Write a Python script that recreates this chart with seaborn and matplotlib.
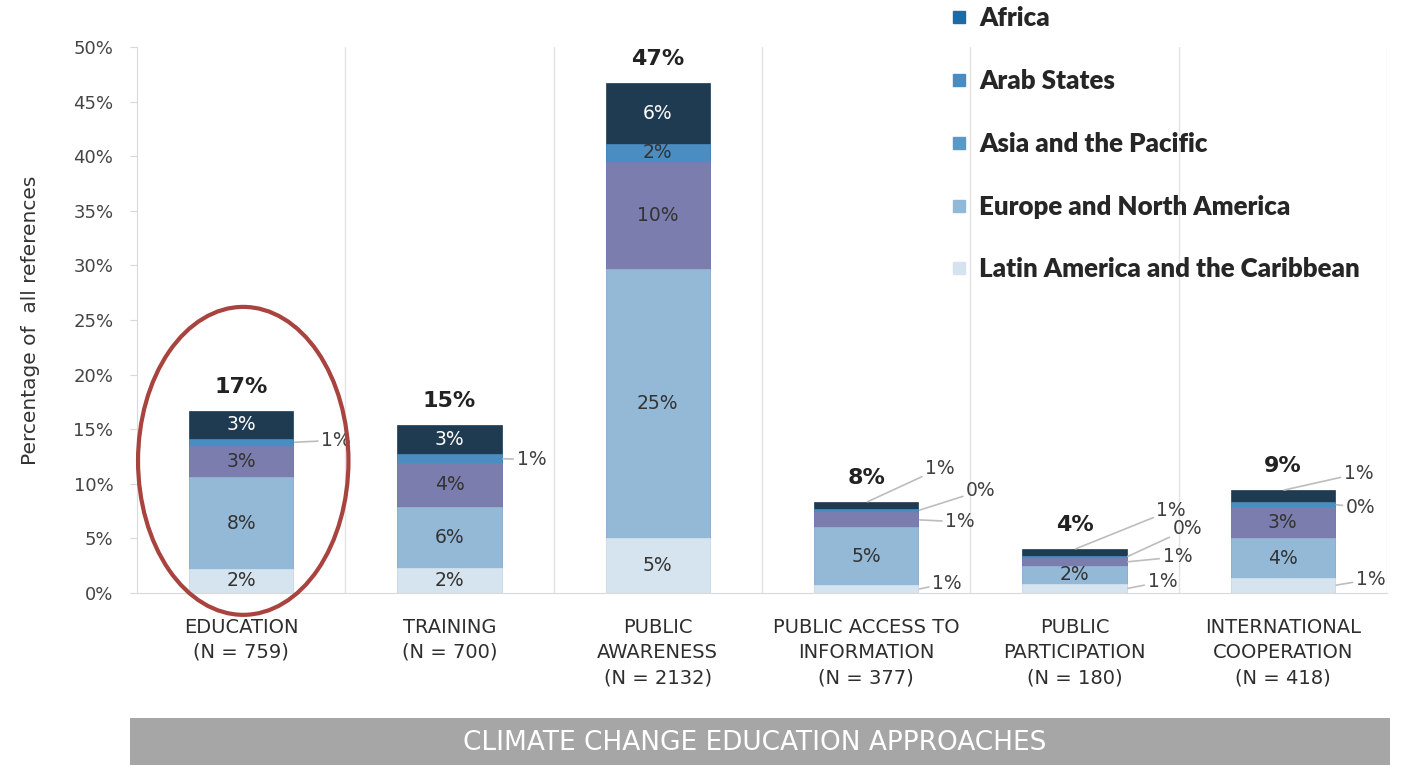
import numpy as np
import seaborn as sns
import matplotlib.pyplot as plt
from matplotlib.lines import Line2D
from matplotlib.patches import Ellipse, Rectangle

# data (percent of all references)
categories = ["EDUCATION\n(N = 759)", "TRAINING\n(N = 700)", "PUBLIC\nAWARENESS\n(N = 2132)",
              "PUBLIC ACCESS TO\nINFORMATION\n(N = 377)", "PUBLIC\nPARTICIPATION\n(N = 180)",
              "INTERNATIONAL\nCOOPERATION\n(N = 418)"]
latin = [2.2, 2.3, 5.0, 0.7, 0.8, 1.4]
europe = [8.4, 5.6, 24.7, 5.3, 1.7, 3.6]
asia = [2.9, 4.0, 9.8, 1.4, 0.7, 2.9]
arab = [0.6, 0.8, 1.6, 0.3, 0.2, 0.4]
africa = [2.6, 2.7, 5.6, 0.6, 0.6, 1.1]
regions = ["Latin America and the Caribbean", "Europe and North America",
           "Asia and the Pacific", "Arab States", "Africa"]
yticks = [0, 5, 10, 15, 20, 25, 30, 35, 40, 45, 50]

bar_colors = ["#d6e4ef", "#94b9d6", "#7b7dae", "#4a8dc2", "#1f3b51"]
legend_colors = {"Africa": "#1b6ba8", "Arab States": "#4a8cc2", "Asia and the Pacific": "#5a98c6",
                 "Europe and North America": "#91b8d6", "Latin America and the Caribbean": "#d4e3ef"}

# labels drawn outside the bar: (category, series) -> (anchor, dx px, dy px)
outside = {(0, 3): ("right", 28, 2), (1, 3): ("right", 15, -1),
           (3, 4): ("top", 59, 34), (3, 3): ("right", 48, 20), (3, 2): ("right", 27, -2), (3, 0): ("right", 14, 6),
           (4, 4): ("top", 82, 39), (4, 3): ("right", 46, 28), (4, 2): ("right", 36, 5), (4, 0): ("right", 21, 7),
           (5, 4): ("top", 61, 17), (5, 3): ("right", 11, -3), (5, 0): ("right", 21, 6)}

sns.set_style('white')
plt.rcParams['font.family'] = ['DejaVu Sans']

series = np.array([latin, europe, asia, arab, africa])
cum = np.cumsum(series, axis=0)
bottoms = cum - series

fig = plt.figure(figsize=(14.02, 7.65), dpi=100)
ax = fig.add_axes([137 / 1402, 1 - 593 / 765, 1250 / 1402, 546 / 765])

# stack by overdrawing cumulative bars from the top down
for i in range(4, -1, -1):
    sns.barplot(x=categories, y=cum[i], color=bar_colors[i], width=0.5, saturation=1,
                edgecolor=bar_colors[i], linewidth=0.5, ax=ax, errorbar=None)

width = 0.5
for j in range(len(categories)):
    for i in range(5):
        v = series[i, j]
        txt = f"{round(v):.0f}%"
        if (j, i) in outside:
            anchor, dx, dy = outside[(j, i)]
            if anchor == "top":
                xy = (j, cum[i, j])
            else:
                xy = (j + width / 2, bottoms[i, j] + v / 2)
            ax.annotate(txt, xy=xy, xytext=(dx, dy), textcoords='offset pixels',
                        ha='left', va='center', fontsize=13.5, color='#404040',
                        arrowprops=dict(arrowstyle='-', color='#bdbdbd', lw=1.2, shrinkA=0, shrinkB=1),
                        annotation_clip=False)
        else:
            ax.text(j, bottoms[i, j] + v / 2, txt, ha='center', va='center', fontsize=13.5,
                    color='white' if i == 4 else '#333333')
    ax.annotate(f"{round(cum[4, j]):.0f}%", xy=(j, cum[4, j]), xytext=(0, 14), textcoords='offset pixels',
                ha='center', va='bottom', fontsize=16, fontweight='bold', color='#222222')

ax.set_xlim(-0.5, 5.5)
ax.set_ylim(0, 50)
ax.set_yticks(yticks)
ax.set_yticklabels([f"{t}%" for t in yticks], fontsize=13, color='#444444')
ax.set_xticks(range(len(categories)))
ax.set_xticklabels(categories, fontsize=14, color='#2e2e2e', linespacing=1.4)
ax.tick_params(axis='x', length=0, pad=18)
ax.tick_params(axis='y', length=5, color='#d9d9d9', left=True, pad=12)
for x in np.arange(0.5, 6, 1):
    ax.axvline(x, color='#e3e3e3', lw=1, zorder=0)
for s in ['top', 'right']:
    ax.spines[s].set_visible(False)
for s in ['left', 'bottom']:
    ax.spines[s].set_color('#d9d9d9')
ax.set_ylabel("Percentage of  all references", fontsize=14.5, color='#333333', labelpad=24)
ax.set_xlabel("")

ax.add_patch(Ellipse((0.01, 12.1), width=1.01, height=28.2, fill=False, edgecolor='#a8433f',
                     lw=3, clip_on=False, zorder=5))

handles = [Line2D([], [], marker='s', linestyle='', markersize=9, color=legend_colors[r])
           for r in regions[::-1]]
fig.legend(handles, regions[::-1], loc='upper left', bbox_to_anchor=(925 / 1402, 1.022), frameon=False,
           prop={'family': ['Lato', 'DejaVu Sans'], 'weight': 'heavy', 'size': 18.6},
           labelspacing=1.5, handlelength=0.8, handletextpad=0.4)

fig.patches.append(Rectangle((130 / 1402, 0), 1260 / 1402, 47 / 765, transform=fig.transFigure,
                             facecolor='#a6a6a6', edgecolor='none'))
fig.text(755 / 1402, 22 / 765, "CLIMATE CHANGE EDUCATION APPROACHES", ha='center', va='center',
         fontsize=19, color='white')

fig.savefig('out.png', dpi=100)
